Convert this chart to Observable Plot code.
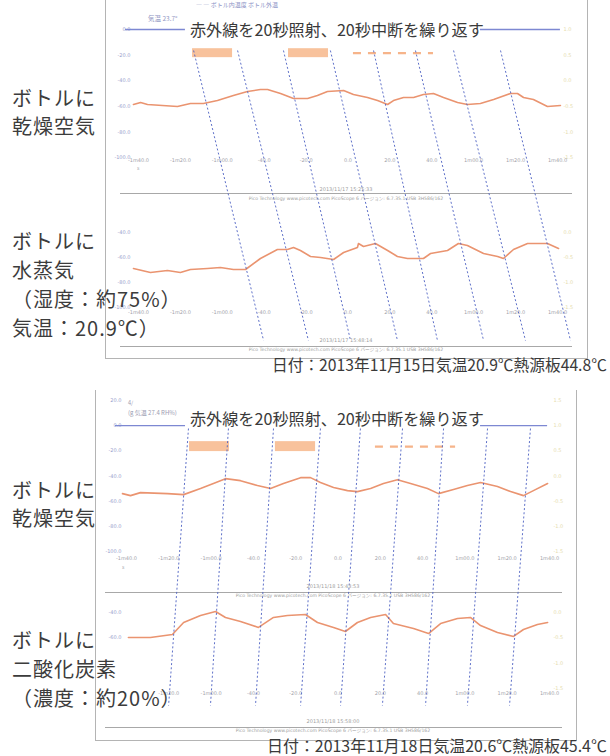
<!DOCTYPE html>
<html lang="ja">
<head>
<meta charset="utf-8">
<script src="https://cdn.jsdelivr.net/npm/d3@7"></script>
<script src="https://cdn.jsdelivr.net/npm/@observablehq/plot@0.6"></script>
<style>
html,body{margin:0;padding:0;background:#fff;}
#root{position:relative;width:610px;height:756px;overflow:hidden;background:#fff;font-family:"Noto Sans CJK JP","Noto Sans",sans-serif;}
#root svg{position:absolute;left:0;pointer-events:none;}
.t{position:absolute;white-space:nowrap;line-height:1;transform:translateY(-50%);}
.c{transform:translate(-50%,-50%);}
.box{position:absolute;box-sizing:border-box;}
</style>
</head>
<body>
<div id="root"></div>
<script>
// ================= DATA =================
// time axis (seconds) and its tick labels (PicoScope style)
const xTicks = [-100, -80, -60, -40, -20, 0, 20, 40, 60, 80, 100];
const xTickLabels = ["-1m40.0", "-1m20.0", "-1m00.0", "-40.0", "-20.0", "0.0", "20.0", "40.0", "1m00.0", "1m20.0", "1m40.0"];
// in the CO2 capture the first time label is hidden under the side caption
const xTicksCO2 = [-80, -60, -40, -20, 0, 20, 40, 60, 80, 100];

// y ticks (left axis) and right-axis labels for each chart
const yTicks1 = [0, -20, -40, -60, -80, -100];
const yRight1 = ["1.0", "0.5", "0.0", "-0.5", "-1.0", "-1.5"];
const yTicks2 = [-40, -60, -80, -100];
const yRight2 = ["0.0", "-0.5", "-1.0", "-1.5"];
const yTicks3 = [20, 0, -20, -40, -60, -80, -100];
const yRight3 = ["1.5", "1.0", "0.5", "0.0", "-0.5", "-1.0", "-1.5"];
const yTicks4 = [-40, -60, -80, -100];
const yTicks4Visible = [-40, -60];   // the lower two are hidden under the side caption
const yRight4 = ["0.0", "-0.5", "-1.0", "-1.5"];

// Chart 1: dry air (2013-11-15)
const dry1Time = [-102.4, -99.0, -95.7, -81.4, -75.2, -69.0, -62.3, -54.7, -48.0, -41.8, -38.4, -32.2, -26.0, -19.3, -14.6, -9.8, -2.1, 2.6, 9.3, 14.1, 18.9, 21.7, 26.5, 31.3, 36.0, 40.8, 45.6, 52.3, 57.0, 63.2, 69.5, 77.6, 80.9, 83.8, 88.5, 95.2, 101.4];
const dry1Value = [-58.6, -57.0, -58.6, -60.2, -57.8, -57.8, -55.5, -51.6, -48.4, -46.9, -46.9, -50.0, -53.9, -53.9, -51.6, -48.4, -47.7, -50.8, -53.1, -55.5, -58.6, -55.5, -53.1, -53.1, -50.8, -50.0, -53.1, -57.0, -58.6, -57.8, -54.7, -50.0, -50.0, -53.1, -54.7, -60.2, -59.4];

// Chart 2: water vapour (2013-11-15)
const vap2Time = [-102.4, -94.3, -86.2, -80.0, -75.2, -67.1, -60.9, -54.7, -48.9, -41.8, -33.7, -28.9, -26.0, -22.7, -17.9, -13.1, -6.9, -2.1, 4.5, 5.0, 7.4, 13.1, 18.9, 23.6, 28.4, 36.0, 39.4, 47.5, 52.7, 57.0, 64.7, 71.4, 74.2, 79.0, 85.7, 95.2, 100.5];
const vap2Value = [-68.8, -72.0, -70.4, -72.0, -69.6, -68.8, -68.0, -69.6, -69.6, -60.8, -53.6, -53.6, -52.0, -54.4, -59.2, -60.0, -61.6, -56.0, -52.0, -48.8, -51.2, -48.8, -54.4, -59.2, -60.8, -60.8, -56.8, -54.4, -48.8, -50.4, -56.8, -59.2, -60.8, -53.6, -48.8, -48.8, -52.8];

// Chart 3: dry air (2013-11-18)
const dry3Time = [-101.9, -98.1, -93.4, -80.6, -73.0, -65.0, -58.9, -53.2, -46.1, -38.1, -31.9, -25.8, -17.7, -13.0, -8.3, -2.1, 4.5, 9.2, 15.4, 21.5, 28.1, 34.3, 42.3, 47.5, 54.6, 61.2, 67.4, 75.4, 81.6, 87.7, 92.4, 99.1];
const dry3Value = [-54.0, -55.6, -53.2, -54.0, -54.8, -50.0, -46.0, -42.1, -43.7, -47.6, -50.0, -46.0, -41.3, -41.3, -45.2, -49.2, -51.6, -52.4, -50.0, -46.0, -42.9, -46.0, -50.0, -54.0, -50.8, -47.6, -45.2, -48.4, -52.4, -55.6, -51.6, -46.0];

// Chart 4: carbon dioxide (2013-11-18)
const co24Time = [-99.1, -88.7, -78.3, -73.0, -65.0, -57.9, -53.2, -46.1, -37.6, -30.5, -23.9, -15.4, -9.7, -2.1, 3.5, 9.2, 15.4, 22.5, 26.2, 35.7, 42.8, 48.5, 56.5, 62.6, 67.4, 75.4, 83.0, 87.7, 94.3, 99.1];
const co24Value = [-59.7, -59.7, -57.4, -47.9, -42.4, -39.2, -43.9, -47.1, -51.8, -43.9, -42.4, -41.6, -47.9, -51.8, -55.0, -47.9, -43.9, -41.6, -48.7, -52.6, -56.6, -48.7, -44.7, -43.9, -50.3, -55.8, -58.9, -53.4, -49.5, -47.9];

// IR irradiation markers (seconds) – upper and lower figure
const irradiation1 = [[-74.2, -55.1], [-28.4, -9.3]];
const dashed1 = [2.6, 40.8];
const irradiation3 = [[-70.2, -51.3], [-29.6, -10.6]];
const dashed3 = [17.7, 55.6];

// channel reference line segments (seconds, broken by the title)
const refLine1 = [[-106.2, -77.6], [63.2, 101.4]];
const refLine3 = [[-105.2, -72.1], [67.4, 99.1]];

// guide lines joining the turning points (time at upper end, time at lower end)
const guide1Top = [-73.7, -52.7, -30.8, -8.4, 12.2, 32.2, 50.4, 72.8];
const guide1Bottom = [-40.3, -18.9, 1.2, 23.6, 42.7, 64.7, 84.7, 106.2];
const guide3Top = [-70.7, -51.8, -30.5, -8.3, 10.6, 30.5, 49.9, 70.7, 91.0];
const guide3Bottom = [-80.1, -60.3, -39.0, -17.7, 1.2, 21.0, 41.4, 61.2, 81.1];

// texts
const titleText = "赤外線を20秒照射、20秒中断を繰り返す";
const leftTop1 = ["ボトルに", "乾燥空気"];
const leftTop2 = ["ボトルに", "水蒸気", "（湿度：約75%）", "気温：20.9℃）"];
const leftBot1 = ["ボトルに", "乾燥空気"];
const leftBot2 = ["ボトルに", "二酸化炭素", "（濃度：約20%）"];
const dateTop = "日付：2013年11月15日気温20.9℃熱源板44.8℃";
const dateBot = "日付：2013年11月18日気温20.6℃熱源板45.4℃";
const stamps = ["2013/11/17 15:25:33", "2013/11/17 15:48:14", "2013/11/18 15:43:53", "2013/11/18 15:58:00"];
const picoLine = "Pico Technology      www.picotech.com      PicoScope 6 バージョン: 6.7.35.1      USB 3H586/162";

// ================= DRAWING =================
const root = document.getElementById("root");
const ORANGE = "#ea9470";
const BLUE = "#4c60c2";

function box(x, y, w, h, css) {
  const d = document.createElement("div");
  d.className = "box";
  Object.assign(d.style, {left: x + "px", top: y + "px", width: w + "px", height: h + "px"}, css);
  root.append(d);
}
function text(str, x, y, size, color, extra = {}, center = false, fitWidth = 0) {
  const d = document.createElement("div");
  d.className = center ? "t c" : "t";
  d.textContent = str;
  Object.assign(d.style, {left: x + "px", top: y + "px", fontSize: size + "px", color}, extra);
  root.append(d);
  if (fitWidth) {
    const w = d.getBoundingClientRect().width;
    if (w > 0) d.style.fontSize = (size * fitWidth / w).toFixed(2) + "px";
  }
  return d;
}

// panel frames (scanned screenshots)
box(105, -2, 483, 361, {borderLeft: "1px solid #b4b4b4", borderRight: "1px solid #b4b4b4", borderBottom: "1px solid #b4b4b4"});
box(95, 390, 482, 351, {borderLeft: "1px solid #b4b4b4", borderRight: "1px solid #b4b4b4", borderBottom: "1px solid #b4b4b4"});
// footer separators of each PicoScope capture
box(120, 193, 452, 1, {background: "#a8a8a8"});
box(120, 346, 452, 1, {background: "#a8a8a8"});
box(105, 592, 457, 1, {background: "#a8a8a8"});
box(105, 727, 457, 1, {background: "#a8a8a8"});

const axisFont = {background: "transparent", fontSize: "5px", fontFamily: "'DejaVu Sans',sans-serif", overflow: "visible"};

function chart(o) {
  const rows = o.time.map((t, i) => ({t, v: o.value[i]}));
  const xt = o.xTicks || xTicks;
  const marks = [
    Plot.axisY(o.yLeft || o.yTicks, {anchor: "left", tickSize: 0, tickPadding: o.padL, tickFormat: d => d.toFixed(1), color: "#98a0cc", label: null}),
    Plot.axisY(o.yTicks, {anchor: "right", tickSize: 0, tickPadding: o.padR, tickFormat: d => o.right[o.yTicks.indexOf(d)], color: "#e6dcae", label: null}),
    Plot.axisX(xt, {anchor: "bottom", tickSize: 0, tickPadding: o.padX, tickFormat: d => xTickLabels[xTicks.indexOf(d)], color: "#a2a2aa", label: null}),
    ...(o.extra || []),
    Plot.line(rows, {x: "t", y: "v", stroke: ORANGE, strokeWidth: 1.6, strokeLinejoin: "round"})
  ];
  const svg = Plot.plot({
    width: 610, height: o.h,
    marginTop: o.mt, marginBottom: o.mb, marginLeft: o.ml, marginRight: o.mr,
    x: {domain: [-100, 100], axis: null},
    y: {domain: o.yDomain, axis: null},
    style: axisFont,
    marks
  });
  svg.style.top = o.top + "px";
  root.append(svg);
}

function irMarks(irr, dash, refSeg, lo, hi, mid) {
  return [
    Plot.ruleY(refSeg, {y: () => 0, x1: d => d[0], x2: d => d[1], stroke: "#7d88d2", strokeWidth: 1.3}),
    Plot.rect(irr, {x1: d => d[0], x2: d => d[1], y1: () => lo, y2: () => hi, fill: "#f8c29c"}),
    Plot.ruleY([mid], {x1: () => dash[0], x2: () => dash[1], stroke: "#f6b48a", strokeWidth: 2.2, strokeDasharray: "8,7"})
  ];
}

// upper figure
chart({top: 0, h: 200, mt: 29, mb: 43, ml: 138, mr: 53, yDomain: [-100, 0], yTicks: yTicks1, right: yRight1,
  padL: 8, padR: 6, padX: 1, time: dry1Time, value: dry1Value,
  extra: irMarks(irradiation1, dashed1, refLine1, -15, -22, -18.5)});
chart({top: 200, h: 150, mt: 32, mb: 43, ml: 138, mr: 53, yDomain: [-100, -40], yTicks: yTicks2, right: yRight2,
  padL: 8, padR: 6, padX: 3, time: vap2Time, value: vap2Value});
// lower figure
chart({top: 380, h: 200, mt: 20, mb: 29, ml: 126, mr: 61, yDomain: [-100, 20], yTicks: yTicks3, right: yRight3,
  padL: 5, padR: 4, padX: 5, time: dry3Time, value: dry3Value,
  extra: irMarks(irradiation3, dashed3, refLine3, -12.7, -20.6, -16.7)});
chart({top: 590, h: 130, mt: 22, mb: 32, ml: 126, mr: 61, yDomain: [-100, -40], yTicks: yTicks4, yLeft: yTicks4Visible, right: yRight4,
  xTicks: xTicksCO2, padL: 5, padR: 4, padX: 3, time: co24Time, value: co24Value});

function guides(o) {
  const rows = o.topT.map((a, i) => ({a, b: o.botT[i]}));
  const svg = Plot.plot({
    width: 610, height: o.h, marginTop: o.mt, marginBottom: o.mb, marginLeft: o.ml, marginRight: o.mr,
    x: {domain: [-100, 100], axis: null}, y: {domain: [0, 1], axis: null},
    style: {background: "transparent", overflow: "visible"},
    marks: [Plot.link(rows, {x1: "a", x2: "b", y1: () => 1, y2: () => 0, stroke: BLUE, strokeWidth: 1, strokeDasharray: "2,2.2", strokeOpacity: 0.9})]
  });
  svg.style.top = o.top + "px";
  root.append(svg);
}
guides({top: 0, h: 360, mt: 50, mb: 20, ml: 138, mr: 53, topT: guide1Top, botT: guide1Bottom});
guides({top: 380, h: 340, mt: 48, mb: 15, ml: 126, mr: 61, topT: guide3Top, botT: guide3Bottom});

// small unit marks and PicoScope footers
text("s", 137, 167, 5, "#a2a2aa");
text("s", 122, 566, 5, "#a2a2aa");
const stampPos = [[346, 189, 199], [346, 340, 350], [333, 586, 596], [333, 721, 731]];
stamps.forEach((s, i) => {
  text(s, stampPos[i][0], stampPos[i][1], 5, "#a0a0a0", {fontFamily: "'DejaVu Sans',sans-serif"}, true);
  text(picoLine, stampPos[i][0], stampPos[i][2], 4.6, "#a0a0a0", {fontFamily: "'DejaVu Sans','Noto Sans CJK JP',sans-serif"}, true);
});

// hand-written notes
text("—   —  ボトル内温度   ボトル外温", 196, 5, 6, "#8d93c6");
text("気温 23.7°", 148, 18, 6.5, "#9297c4");
text("4/", 128, 404, 5.5, "#9a9ab0");
text("(g  気温 27.4 RH%)", 128, 413, 6, "#9a9ab0");

// titles
text(titleText, 190, 29, 16, "#3a3a3a", {}, false, 294);
text(titleText, 190, 418, 16, "#3a3a3a", {}, false, 294);

// left labels
const labStyle = {letterSpacing: "1px"};
leftTop1.forEach((s, i) => text(s, 12, 98 + i * 28, 20, "#3c3c3c", labStyle));
leftTop2.forEach((s, i) => text(s, 12, 241 + i * 29, 20, "#3c3c3c", labStyle));
leftBot1.forEach((s, i) => text(s, 12, 490 + i * 28, 20, "#3c3c3c", labStyle));
leftBot2.forEach((s, i) => text(s, 12, 640 + i * 29, 20, "#3c3c3c", labStyle));

// dates (fitted to the width they occupy in the scan)
text(dateTop, 272, 365, 16, "#3a3a3a", {}, false, 335);
text(dateBot, 267, 746, 15.5, "#3a3a3a", {}, false, 340);
</script>
</body>
</html>
